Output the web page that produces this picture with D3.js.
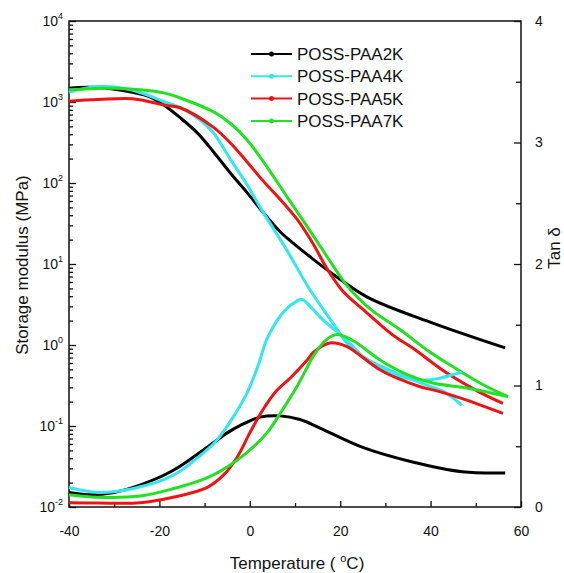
<!DOCTYPE html>
<html>
<head>
<meta charset="utf-8">
<script src="https://cdn.jsdelivr.net/npm/d3@7"></script>
<style>
  body { margin: 0; background: #fff; }
  text { font-family: "Liberation Sans", Arial, sans-serif; fill: #111; }
</style>
</head>
<body>
<svg id="chart" width="564" height="573"></svg>
<script>
// series names and colours
const names = ["POSS-PAA2K", "POSS-PAA4K", "POSS-PAA5K", "POSS-PAA7K"];
const colors = ["#000000", "#33e6f0", "#ee1414", "#22e022"];

// storage modulus (MPa) vs temperature (C)
const mod2k_t = [-40, -35, -26, -22, -18.8, -15.4, -11.5, -8.1, -4.4, -0.6, 3.8, 6.7, 10.4, 14, 17.7, 26, 40.5, 56.5];
const mod2k = [1480, 1520, 1320, 1150, 900, 640, 410, 245, 135, 76, 38, 25, 16.6, 11.5, 8, 3.9, 1.86, 0.92];
const mod4k_t = [-40, -33.6, -26.1, -18.8, -15.4, -11, -8.1, -4.4, -0.6, 2.3, 8.2, 13.3, 18.4, 21.5, 24.4, 27.5, 31, 36.1, 39.2, 43.2, 46.9];
const mod4k = [1320, 1550, 1410, 1000, 850, 600, 420, 200, 95, 50, 14.8, 4.8, 1.86, 1.05, 0.76, 0.6, 0.49, 0.37, 0.32, 0.26, 0.18];
const mod5k_t = [-40, -33.6, -26, -18.8, -15.4, -8.1, -4.4, -0.6, 2.9, 6.7, 10.4, 14, 17, 20.6, 25.9, 31.7, 36.1, 43.6, 50.9, 56];
const mod5k = [1023, 1070, 1100, 912, 850, 490, 316, 182, 107, 63, 36, 17.8, 8.9, 4.6, 2.5, 1.32, 0.91, 0.45, 0.26, 0.19];
const mod7k_t = [-40, -29.8, -18.8, -15.4, -8.1, -4.4, -0.6, 3.8, 8.2, 12.7, 17.1, 21.5, 24.4, 27.3, 33.2, 39.2, 43.6, 50.9, 57.1];
const mod7k = [1413, 1479, 1288, 1120, 760, 550, 340, 158, 68, 29, 12.3, 5.4, 3.6, 2.6, 1.55, 0.87, 0.60, 0.34, 0.23];

// tan delta vs temperature
const tan2k_t = [-40, -35, -30, -24.3, -17, -9.5, -5, -2.2, 2.3, 6.7, 11.1, 15.5, 25, 36, 47, 56.5];
const tan2k = [0.12, 0.10, 0.12, 0.18, 0.30, 0.49, 0.61, 0.67, 0.74, 0.75, 0.72, 0.65, 0.49, 0.37, 0.29, 0.28];
const tan4k_t = [-40, -33.6, -26, -17, -9.5, -7.3, -3.7, -0.6, 1.8, 4, 7.8, 10.7, 11.5, 16.2, 21.5, 25.9, 31, 36.1, 40.5, 45, 46.9];
const tan4k = [0.16, 0.12, 0.15, 0.26, 0.47, 0.55, 0.74, 0.94, 1.16, 1.40, 1.62, 1.70, 1.71, 1.54, 1.37, 1.21, 1.10, 1.05, 1.05, 1.09, 1.11];
const tan5k_t = [-40, -33.6, -24.3, -17, -9.5, -5.9, -2.8, 0, 2.9, 6, 8.9, 12.7, 14, 17.7, 21.5, 25, 28.8, 32.6, 37.7, 42, 48, 50.9, 56];
const tan5k = [0.035, 0.033, 0.035, 0.08, 0.16, 0.26, 0.41, 0.61, 0.80, 0.96, 1.06, 1.21, 1.27, 1.35, 1.32, 1.23, 1.13, 1.06, 0.99, 0.95, 0.88, 0.84, 0.77];
const tan7k_t = [-40, -33.6, -24.3, -17, -9.5, -5, -0.6, 3.8, 6.7, 10.4, 12.7, 14, 17, 19.3, 22.8, 28.8, 34.8, 40.5, 48, 57.1];
const tan7k = [0.10, 0.08, 0.09, 0.15, 0.24, 0.33, 0.45, 0.61, 0.77, 0.99, 1.15, 1.24, 1.38, 1.42, 1.37, 1.21, 1.09, 1.02, 0.98, 0.91];

// tick values
const xMajor = [-40, -20, 0, 20, 40, 60];
const xMinor = [-30, -10, 10, 30, 50];
const yLeftExp = [-2, -1, 0, 1, 2, 3, 4];
const yRightMajor = [0, 1, 2, 3, 4];
const yRightMinor = [0.5, 1.5, 2.5, 3.5];

const pLeft = 69, pRight = 521, pTop = 21, pBottom = 507;

let svg = d3.select("#chart");

let x = d3.scaleLinear().domain([-40, 60]).range([pLeft, pRight]);
let yL = d3.scaleLog().domain([0.01, 10000]).range([pBottom, pTop]);
let yR = d3.scaleLinear().domain([0, 4]).range([pBottom, pTop]);

function zip(t, v) {
  return t.map((d, i) => ({ t: d, v: v[i] }));
}

let modData = [zip(mod2k_t, mod2k), zip(mod4k_t, mod4k), zip(mod5k_t, mod5k), zip(mod7k_t, mod7k)];
let tanData = [zip(tan2k_t, tan2k), zip(tan4k_t, tan4k), zip(tan5k_t, tan5k), zip(tan7k_t, tan7k)];

let lineL = d3.line().curve(d3.curveCatmullRom.alpha(0.5)).x(d => x(d.t)).y(d => yL(d.v));
let lineR = d3.line().curve(d3.curveCatmullRom.alpha(0.5)).x(d => x(d.t)).y(d => yR(d.v));

// axes (ticks inward)
function noDomain(g) {
  g.select(".domain").remove();
  g.selectAll(".tick line").attr("stroke", "#111").attr("stroke-width", 1.3);
}

svg.append("g").attr("transform", `translate(0,${pBottom})`)
  .call(d3.axisBottom(x).tickValues(xMajor).tickSize(-6).tickPadding(19).tickFormat(d => d))
  .call(noDomain)
  .call(g => g.selectAll("text").attr("font-size", 14).attr("font-family", "Liberation Sans, Arial, sans-serif"));
svg.append("g").attr("transform", `translate(0,${pBottom})`)
  .call(d3.axisBottom(x).tickValues(xMinor).tickSize(-4).tickFormat(""))
  .call(noDomain);

let logTicks = yL.ticks();
let logMajor = logTicks.filter(d => Math.abs(Math.log10(d) - Math.round(Math.log10(d))) < 1e-9);
let logMinor = logTicks.filter(d => !logMajor.includes(d));

svg.append("g").attr("transform", `translate(${pLeft},0)`)
  .call(d3.axisLeft(yL).tickValues(logMajor).tickSize(-7).tickFormat(""))
  .call(noDomain);
svg.append("g").attr("transform", `translate(${pLeft},0)`)
  .call(d3.axisLeft(yL).tickValues(logMinor).tickSize(-4).tickFormat(""))
  .call(noDomain);

svg.append("g").attr("transform", `translate(${pRight},0)`)
  .call(d3.axisRight(yR).tickValues(yRightMajor).tickSize(-7).tickPadding(14).tickFormat(d => d))
  .call(noDomain)
  .call(g => g.selectAll("text").attr("font-size", 14).attr("font-family", "Liberation Sans, Arial, sans-serif"));
svg.append("g").attr("transform", `translate(${pRight},0)`)
  .call(d3.axisRight(yR).tickValues(yRightMinor).tickSize(-5).tickFormat(""))
  .call(noDomain);

// left labels 10^n
let ll = svg.append("g").selectAll("text")
  .data(yLeftExp).enter()
  .append("text")
  .attr("x", 63)
  .attr("y", d => yL(Math.pow(10, d)) + 5)
  .attr("text-anchor", "end")
  .attr("font-size", 14);
ll.append("tspan").text("10");
ll.append("tspan").attr("dy", -7).attr("font-size", 9).text(d => d);

// frame
svg.append("rect")
  .attr("x", pLeft).attr("y", pTop)
  .attr("width", pRight - pLeft).attr("height", pBottom - pTop)
  .attr("fill", "none").attr("stroke", "#111").attr("stroke-width", 1.5);

// curves
let curves = svg.append("g").attr("fill", "none").attr("stroke-width", 3).attr("stroke-linejoin", "round");
curves.selectAll(".mod").data(modData).enter()
  .append("path").attr("class", "mod")
  .attr("stroke", (d, i) => colors[i])
  .attr("d", lineL);
curves.selectAll(".tan").data(tanData).enter()
  .append("path").attr("class", "tan")
  .attr("stroke", (d, i) => colors[i])
  .attr("d", lineR);

// legend
let leg = svg.append("g").selectAll("g")
  .data(names).enter()
  .append("g")
  .attr("transform", (d, i) => `translate(251,${54 + i * 22.3})`);
leg.append("line")
  .attr("x1", 0).attr("x2", 41)
  .attr("stroke", (d, i) => colors[i]).attr("stroke-width", 2);
leg.append("circle")
  .attr("cx", 20.5).attr("r", 2.5)
  .attr("fill", (d, i) => colors[i]);
leg.append("text")
  .attr("x", 46).attr("y", 6)
  .attr("font-size", 17)
  .text(d => d);

// axis titles
let xt = svg.append("text")
  .attr("x", 297).attr("y", 569)
  .attr("text-anchor", "middle")
  .attr("font-size", 17);
xt.append("tspan").text("Temperature ( ");
xt.append("tspan").attr("dy", -7).attr("font-size", 11).text("o");
xt.append("tspan").attr("dy", 7).text("C)");

svg.append("text")
  .attr("transform", "translate(28,265) rotate(-90)")
  .attr("text-anchor", "middle")
  .attr("font-size", 17)
  .text("Storage modulus (MPa)");

svg.append("text")
  .attr("transform", "translate(560,248) rotate(-90)")
  .attr("text-anchor", "middle")
  .attr("font-size", 17)
  .text("Tan δ");
</script>
</body>
</html>
